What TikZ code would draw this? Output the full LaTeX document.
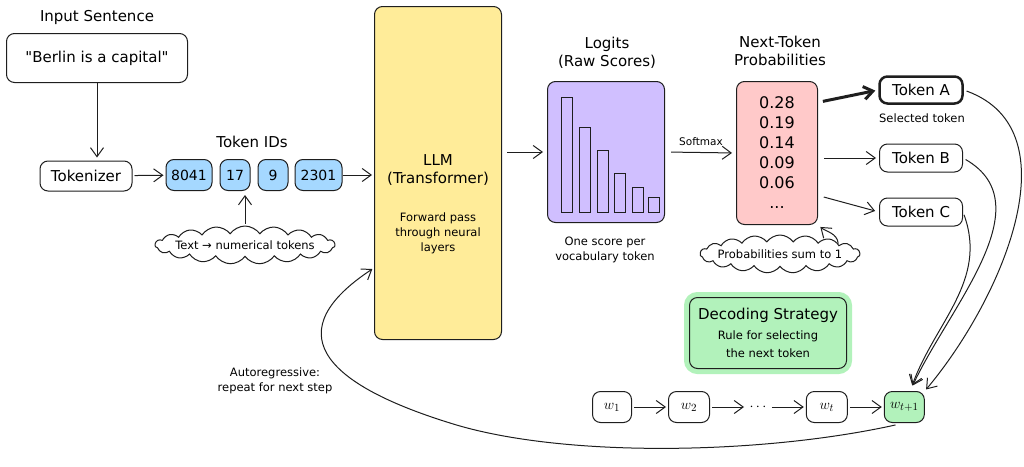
\documentclass[tikz,border=0pt]{standalone}
\usepackage{fontspec}
\setmainfont{DejaVu Sans}
\usetikzlibrary{positioning, arrows.meta, shapes.symbols}
\definecolor{idblue}{HTML}{A5D8FF}
\definecolor{llmyellow}{HTML}{FFEC99}
\definecolor{logitpurple}{HTML}{D0BFFF}
\definecolor{probpink}{HTML}{FFC9C9}
\definecolor{decgreen}{HTML}{B2F2BB}
\definecolor{inkgray}{HTML}{1E1E1E}
\newcommand{\txtbig}{\fontsize{15}{18}\selectfont}
\newcommand{\txtmid}{\fontsize{14}{16}\selectfont}
\newcommand{\txtsmall}{\fontsize{11.5}{15}\selectfont}
\newcommand{\txtnum}{\fontsize{16}{20}\selectfont}
\newcommand{\dq}{\XeTeXglyph\the\XeTeXcharglyph"22\relax}

\begin{document}
\begin{tikzpicture}[x=1pt,y=-1pt,->,>={Straight Barb[length=9pt,width=13pt]},line width=1pt,draw=inkgray]
  % styles
  \tikzstyle{plain} = [font=\txtbig,inner sep=0pt,align=center];
  \tikzstyle{small} = [font=\txtsmall,inner sep=0pt,align=center];
  \tikzstyle{box} = [rectangle,rounded corners=8pt,draw=inkgray,fill=white,font=\txtbig,inner sep=4pt];
  \tikzstyle{idbox} = [box,fill=idblue,font=\txtmid,minimum width=30pt,minimum height=31pt];
  \tikzstyle{wbox} = [box,font=\fontsize{15}{18}\selectfont,minimum height=31pt,minimum width=39pt];
  \tikzstyle{note} = [cloud,cloud ignores aspect,draw=inkgray,fill=white,cloud puffs=19,cloud puff arc=110,
                      inner xsep=-40pt,inner ysep=-6pt,minimum height=38pt,font=\txtsmall];

  \useasboundingbox (0,0) rectangle (1024,466);

  % nodes
  \node[plain] (intitle) at (97,17) {Input Sentence};
  \node[box,minimum width=181pt,minimum height=49pt] (sentence) at (97,58) {\dq Berlin is a capital\dq};
  \node[box,minimum width=92pt,minimum height=30pt] (tokenizer) at (86,176) {Tokenizer};

  \node[plain] (idtitle) at (252,142) {Token IDs};
  \node[idbox,minimum width=46pt] (id1) at (189,175) {8041};
  \node[idbox,right=7pt of id1] (id2) {17};
  \node[idbox,right=7pt of id2] (id3) {9};
  \node[idbox,right=6pt of id3,minimum width=47pt] (id4) {2301};
  \node[note,minimum width=180pt] (idnote) at (245,245) {Text → numerical tokens};

  \node[box,fill=llmyellow,minimum width=127pt,minimum height=333pt] (llm) at (438,173) {};
  \node[plain] (llmname) at (438,170) {LLM\\(Transformer)};
  \node[small] (llmnote) at (438,233) {Forward pass\\through neural\\layers};

  \node[plain] (logtitle) at (607,53) {Logits\\(Raw Scores)};
  \node[box,fill=logitpurple,minimum width=117pt,minimum height=141pt] (logits) at (606,152) {};
  \foreach \x/\t in {561/97, 579/127, 597/150, 614/173, 632/187, 648/197}
    \draw[-,fill=logitpurple] (\x,212) rectangle (\x+11,\t);
  \node[small] (lognote) at (605,250) {One score per\\vocabulary token};

  \node[small,font=\fontsize{10.5}{12}\selectfont] (softmax) at (701,142) {Softmax};

  \node[plain] (probtitle) at (780,51) {Next-Token\\Probabilities};
  \node[box,fill=probpink,minimum width=81pt,minimum height=143pt,font=\txtnum,align=center] (probs) at (777,153)
    {0.28\\0.19\\0.14\\0.09\\0.06\\...};
  \node[note,minimum width=160pt] (probnote) at (780,254) {Probabilities sum to 1};

  \node[box,minimum width=83pt,minimum height=27pt,line width=2.5pt] (tokA) at (921,90) {Token A};
  \node[small] (selected) at (922,118) {Selected token};
  \node[box,minimum width=83pt,minimum height=28pt] (tokB) at (921,158) {Token B};
  \node[box,minimum width=83pt,minimum height=28pt] (tokC) at (921,212) {Token C};

  \node[box,fill=decgreen,preaction={draw=decgreen,line width=11pt},minimum width=157pt,minimum height=71pt,align=center]
    (decode) at (768,333) {Decoding Strategy\\[2pt]{\txtsmall Rule for selecting}\\{\txtsmall the next token}};

  \node[wbox] (w1) at (612,407) {$w_1$};
  \node[wbox,right=36pt of w1,minimum width=41pt] (w2) {$w_2$};
  \node[inner sep=3pt,font=\txtbig] (wdots) [right=36pt of w2] {$\cdots$};
  \node[wbox,right=36pt of wdots,minimum width=41pt] (wt) {$w_t$};
  \node[wbox,right=36pt of wt,minimum width=40pt,fill=decgreen] (wt1) {$w_{t+1}$};

  \node[small] (autoreg) at (275,381) {Autoregressive:\\repeat for next step};

  % edges
  \path (sentence.south) edge [shorten >=3pt] (sentence.south |- tokenizer.north);
  \path (tokenizer) edge [shorten <=2pt,shorten >=2pt] (id1);
  \path (id4) edge [shorten >=2pt] (llm.west |- id4.east);
  \path (idnote.north) edge [shorten <=2pt,shorten >=4pt] (idnote.north |- id2.south);

  \path (llm.east |- logits.west) edge [shorten <=5pt,shorten >=4pt] (logits.west);
  \path (logits.east) edge [shorten <=6pt,shorten >=4pt] (probs.west);

  \path (probs.51) edge [line width=3pt,shorten <=5pt,shorten >=3pt] (tokA.west);
  \path (probs.east |- tokB) edge [shorten <=6pt,shorten >=3pt] (tokB.west);
  \path (probs.-46) edge [shorten <=6pt,shorten >=4pt] (tokC.west);
  \path (probnote.10) edge [out=95,in=-40,shorten >=3pt] (probs.south east);

  \path (tokA.east) edge [out=-20,in=50,shorten <=3pt,shorten >=2pt] (wt1.north east);
  \path (tokB.east) edge [out=-30,in=65,shorten <=3pt,shorten >=6pt] (wt1.70);
  \path (tokC.east) edge [out=-70,in=70,shorten <=3pt,shorten >=6pt] (wt1.70);

  \path (w1) edge [shorten <=2pt,shorten >=2pt] (w2)
        (w2) edge [shorten <=2pt,shorten >=2pt] (wdots)
        (wdots) edge [shorten <=2pt,shorten >=2pt] (wt)
        (wt) edge [shorten <=2pt,shorten >=2pt] (wt1);

  \draw[shorten <=9pt,shorten >=2pt] (wt1.south) .. controls (760,455) and (560,458) .. (450,423)
        .. controls (318,382) and (280,330) .. (llm.236);
\end{tikzpicture}
\end{document}
